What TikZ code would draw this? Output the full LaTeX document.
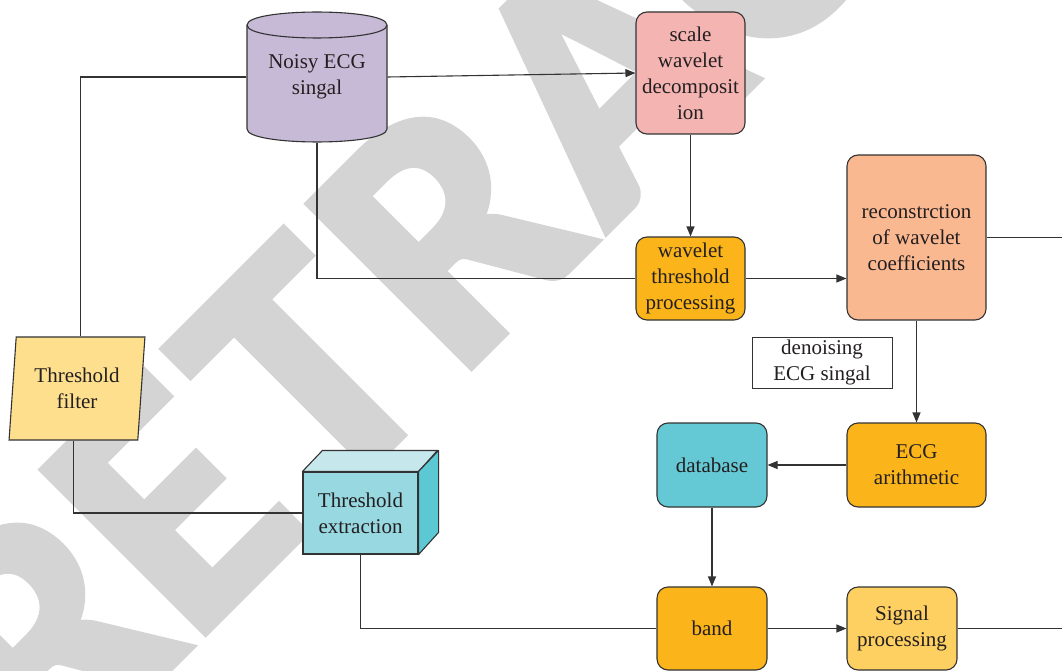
\documentclass[tikz,border=0pt]{standalone}
\usepackage{fontspec}
\setmainfont{Liberation Serif}
\newfontfamily\wmfont[FakeBold=2.5]{Carlito}
\usetikzlibrary{arrows.meta,calc,shapes.geometric}
\definecolor{linec}{HTML}{333333}
\definecolor{textc}{HTML}{231F20}
\definecolor{wm}{HTML}{D4D4D4}
\definecolor{cyl}{HTML}{C7BAD6}
\definecolor{pinkc}{HTML}{F4B4B2}
\definecolor{orangec}{HTML}{FBB41A}
\definecolor{salmon}{HTML}{FAB891}
\definecolor{cyanc}{HTML}{65C8D5}
\definecolor{lightyel}{HTML}{FED061}
\definecolor{paleyel}{HTML}{FEDF8E}
\definecolor{cubefront}{HTML}{97D8E1}
\definecolor{cubetop}{HTML}{C6E7EC}
\definecolor{cubeside}{HTML}{5CC8D4}
\begin{document}
\begin{tikzpicture}[x=1pt,y=-1pt,line width=1.1pt,
  txt/.style={align=center,inner sep=0pt,text=textc,font=\fontsize{21}{26}\selectfont},
  box/.style={txt,draw=linec,rounded corners=11pt},
  arr/.style={draw=linec,-{Triangle[length=10pt,width=8pt]}},
  ln/.style={draw=linec},
  wmletter/.style={rotate=45,anchor=base west,inner sep=0pt,text=wm,
    font=\wmfont\bfseries\fontsize{353}{353}\selectfont}]
\useasboundingbox (0,0) rectangle (1062,671);
\clip (0,0) rectangle (1062,671);
% watermark
\node[wmletter] (wm1) at (50.8,786.2) {R};
\node[wmletter] (wm2) at (190.8,646.2) {E};
\node[wmletter] (wm3) at (323.7,513.3) {T};
\node[wmletter] (wm4) at (456.7,380.3) {R};
\node[wmletter] (wm5) at (605.9,231.1) {A};
\node[wmletter] (wm6) at (757.2,79.8) {C};
% cylinder
\filldraw[fill=cyl,draw=linec] (247,25) -- (247,129)
  .. controls (247,146.3) and (387,146.3) .. (387,129) -- (387,25)
  .. controls (387,7.7) and (247,7.7) .. (247,25) -- cycle;
\draw[linec] (247,25) .. controls (247,42.3) and (387,42.3) .. (387,25);
\node[txt,minimum width=140pt,minimum height=130pt] (noisy) at (317,77) {Noisy ECG\\singal};
% boxes
\node[box,fill=pinkc,minimum width=109pt,minimum height=122pt] (swd) at (690.5,73) {scale\\wavelet\\decomposit\\ion};
\node[box,fill=orangec,minimum width=109pt,minimum height=83pt] (wtp) at (690.5,278.5) {wavelet\\threshold\\processing};
\node[box,fill=salmon,minimum width=139pt,minimum height=165pt] (rec) at (916.5,237.5) {reconstrction\\of wavelet\\coefficients};
\node[txt,draw=linec,line width=0.8pt,fill=white,minimum width=140pt,minimum height=51pt] (den) at (822,362.5) {denoising\\ECG singal};
\node[box,fill=orangec,minimum width=139pt,minimum height=84pt] (ea) at (916.5,465) {ECG\\arithmetic};
\node[box,fill=cyanc,minimum width=110pt,minimum height=84pt] (db) at (712,465) {database};
\node[box,fill=orangec,minimum width=110pt,minimum height=83pt] (band) at (712,628.5) {band};
\node[box,fill=lightyel,minimum width=110pt,minimum height=83pt] (sp) at (902,628.5) {Signal\\processing};
% parallelogram
\node[txt,trapezium,trapezium left angle=83,trapezium right angle=97,trapezium stretches=true,
  draw=linec,fill=paleyel,minimum width=136pt,minimum height=103pt] (tf) at (77,388.5) {Threshold\\filter};
% cube
\node[txt,draw=linec,fill=cubefront,minimum width=115pt,minimum height=82pt] (tx) at (360.5,513) {Threshold\\extraction};
\filldraw[fill=cubetop,draw=linec,line join=round] (tx.north west) -- ++(20,-21) -- ++(115,0) -- (tx.north east) -- cycle;
\filldraw[fill=cubeside,draw=linec,line join=round] (tx.north east) -- ++(20,-21) -- ++(0,82) -- (tx.south east) -- cycle;
% free ends
\coordinate (r1) at (1062,237.5);
\coordinate (r2) at (1062,628.5);
% connectors
\draw[arr] (noisy.east) -- (swd.west);
\draw[ln] (noisy.west) -| (tf.top side);
\draw[ln] (noisy.south) |- (wtp.west);
\draw[arr] (swd.south) -- (wtp.north);
\draw[arr] (wtp.east) -- (wtp.east -| rec.west);
\draw[ln] (rec.east) -- (r1);
\draw[arr] (rec.south) -- (ea.north);
\draw[arr] (ea.west) -- (db.east);
\draw[arr] (db.south) -- (band.north);
\draw[arr] (band.east) -- (sp.west);
\draw[ln] (sp.east) -- (r2);
\draw[ln] (tf.bottom side) |- (tx.west);
\draw[ln] (tx.south) |- (band.west);
\end{tikzpicture}
\end{document}
